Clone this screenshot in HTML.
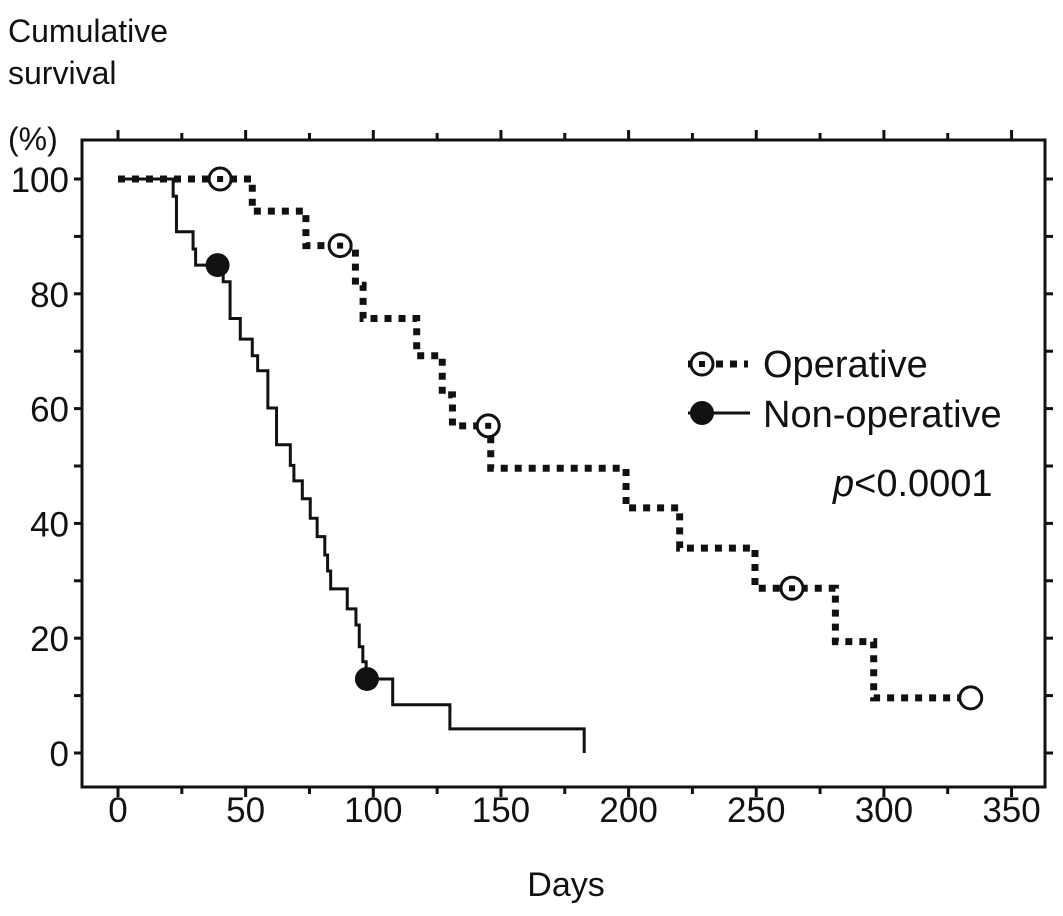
<!DOCTYPE html>
<html><head><meta charset="utf-8"><style>
body{margin:0;background:#fff}
svg text{font-family:"Liberation Sans",Arial,sans-serif;fill:#111}
</style></head><body>
<svg id="chart" width="1063" height="911" viewBox="0 0 1063 911" xmlns="http://www.w3.org/2000/svg">
<text x="8" y="42" font-size="32">Cumulative</text>
<text x="8" y="84" font-size="32">survival</text>
<text x="8" y="150" font-size="32">(%)</text>
<rect x="82" y="140" width="963" height="647" fill="none" stroke="#111" stroke-width="3"/>
<g id="axes"></g>
<g id="series"></g>
<g>
<line x1="688" y1="364" x2="748" y2="364" stroke="#111" stroke-width="7" stroke-dasharray="7 7"/>
<circle cx="702" cy="364" r="11" fill="#fff" stroke="#111" stroke-width="3"/>
<rect x="699" y="361" width="6" height="6" fill="#111"/>
<text x="763" y="377" font-size="38">Operative</text>
<line x1="688" y1="413" x2="750" y2="413" stroke="#111" stroke-width="3"/>
<circle cx="702" cy="413" r="12" fill="#111"/>
<text x="763" y="427" font-size="38">Non-operative</text>
<text x="833" y="496" font-size="38"><tspan font-style="italic">p</tspan>&lt;0.0001</text>
</g>
<text x="566" y="896" font-size="34" text-anchor="middle">Days</text>
</svg>
<script>
const xTicks=[0,50,100,150,200,250,300,350];
const yTicks=[0,20,40,60,80,100];
const opDays=[0,52.6,73.6,93,96,117,127,131,146,199,220,249.5,281,296,334];
const opSurv=[100,94.4,88.4,81.5,75.7,69.2,62.4,57,49.6,42.7,35.7,28.7,19.4,9.6,9.6];
const opCensorDays=[40,87,145,264,334];
const nonDays=[0,21.6,22.9,29.4,30.4,41.2,43.9,47.9,52.6,54.7,58.7,62.1,67.5,68.9,72.2,75.3,78,81,82.1,83.3,89.8,93.2,94.5,95.9,97.2,107.6,130,182.6];
const nonSurv=[100,97,90.8,87.8,85,82.1,75.7,72.1,69.2,66.6,60.1,53.7,50.1,47.4,44.3,40.9,37.7,34.5,31.7,28.6,25.1,22.3,18.5,15.9,12.9,8.4,4.2,0];
const nonCensorDays=[39,97.5];

const X=d=>118+d*2.553, Y=p=>753-p*5.74;
const NS="http://www.w3.org/2000/svg";
function mk(tag,attrs,parent){const e=document.createElementNS(NS,tag);for(const k in attrs)e.setAttribute(k,attrs[k]);parent.appendChild(e);return e;}
const axes=document.getElementById('axes'), ser=document.getElementById('series');
for(let d=0;d<=350;d+=25){
  const len=d%50===0?10:7;
  const t1=mk('line',{x1:X(d),x2:X(d),y1:787,y2:787+len,stroke:'#111','stroke-width':3},axes);
  
  
  const t2=mk('line',{x1:X(d),x2:X(d),y1:140,y2:140-len,stroke:'#111','stroke-width':3},axes);
  
  
}
xTicks.forEach(d=>{const t=mk('text',{x:X(d),y:822,'font-size':35,'text-anchor':'middle'},axes);t.textContent=d;
  
  });
for(let p=0;p<=100;p+=10){
  const a=mk('line',{x1:82,x2:74,y1:Y(p),y2:Y(p),stroke:'#111','stroke-width':3},axes);
  
  
  const b=mk('line',{x1:1045,x2:1053,y1:Y(p),y2:Y(p),stroke:'#111','stroke-width':3},axes);
  
  
}
yTicks.forEach(p=>{const t=mk('text',{x:69,y:Y(p)+13,'font-size':35,'text-anchor':'end'},axes);t.textContent=p;
  
  });
function stepPath(days,surv){let d='M'+X(days[0])+','+Y(surv[0]);
  for(let i=1;i<days.length;i++){d+=' H'+X(days[i])+' V'+Y(surv[i]);}return d;}
function survAt(days,surv,t){let s=surv[0];for(let i=0;i<days.length;i++){if(days[i]<=t)s=surv[i];}return s;}
const op=mk('path',{d:stepPath(opDays,opSurv),fill:'none',stroke:'#111','stroke-width':7,'stroke-dasharray':'7 7'},ser);


const no=mk('path',{d:stepPath(nonDays,nonSurv),fill:'none',stroke:'#111','stroke-width':3},ser);


opCensorDays.forEach((t,i)=>{const s=survAt(opDays,opSurv,t);
  const c=mk('circle',{cx:X(t),cy:Y(s),r:11,fill:'#fff',stroke:'#111','stroke-width':3},ser);
  
  
  if(i<opCensorDays.length-1){mk('rect',{x:X(t)-3,y:Y(s)-3,width:6,height:6,fill:'#111'},ser);}
});
nonCensorDays.forEach(t=>{const s=survAt(nonDays,nonSurv,t);
  const c=mk('circle',{cx:X(t),cy:Y(s),r:12,fill:'#111'},ser);
  
  
});
</script>
</body></html>
